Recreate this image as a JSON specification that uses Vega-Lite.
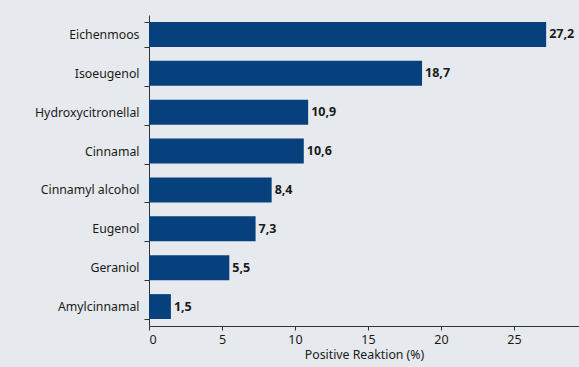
{
  "$schema": "https://vega.github.io/schema/vega-lite/v6.json",
  "autosize": "none",
  "width": 430,
  "height": 311,
  "padding": {"left": 149, "top": 15, "right": 0, "bottom": 41},
  "background": "#e6eaee",
  "config": {
    "view": {"stroke": null},
    "locale": {"number": {"decimal": ",", "thousands": ".", "grouping": [3], "currency": ["", " €"]}},
    "font": "Noto Sans"
  },
  "data": {
    "values": [
      {"substance": "Eichenmoos", "value": 27.2},
      {"substance": "Isoeugenol", "value": 18.7},
      {"substance": "Hydroxycitronellal", "value": 10.9},
      {"substance": "Cinnamal", "value": 10.6},
      {"substance": "Cinnamyl alcohol", "value": 8.4},
      {"substance": "Eugenol", "value": 7.3},
      {"substance": "Geraniol", "value": 5.5},
      {"substance": "Amylcinnamal", "value": 1.5}
    ]
  },
  "encoding": {
    "y": {
      "field": "substance",
      "type": "nominal",
      "sort": null,
      "scale": {"paddingInner": 0.36, "paddingOuter": 0.18},
      "axis": {
        "title": null,
        "tickBand": "extent",
        "tickSize": 5,
        "tickColor": "#333333",
        "domainColor": "#333333",
        "labelPadding": 5,
        "labelFontSize": 12.3,
        "labelColor": "#1a1a1a",
        "labelFont": "Noto Sans"
      }
    },
    "x": {
      "field": "value",
      "type": "quantitative",
      "scale": {"domain": [0, 29.45], "nice": false},
      "axis": {
        "values": [0, 5, 10, 15, 20, 25],
        "format": "d",
        "grid": false,
        "tickSize": 4,
        "tickColor": "#333333",
        "domainColor": "#333333",
        "labelPadding": 3,
        "labelFontSize": 12.5,
        "labelColor": "#1a1a1a",
        "title": "Positive Reaktion (%)",
        "titleFontWeight": "normal",
        "titleFontSize": 12.3,
        "titleColor": "#1a1a1a",
        "titlePadding": 3
      }
    }
  },
  "layer": [
    {"mark": {"type": "bar", "color": "#06417d"}},
    {
      "mark": {"type": "text", "align": "left", "dx": 3, "fontWeight": "bold", "fontSize": 12.5, "color": "#1a1a1a"},
      "encoding": {"text": {"field": "value", "type": "quantitative", "format": ".1f"}}
    }
  ]
}
